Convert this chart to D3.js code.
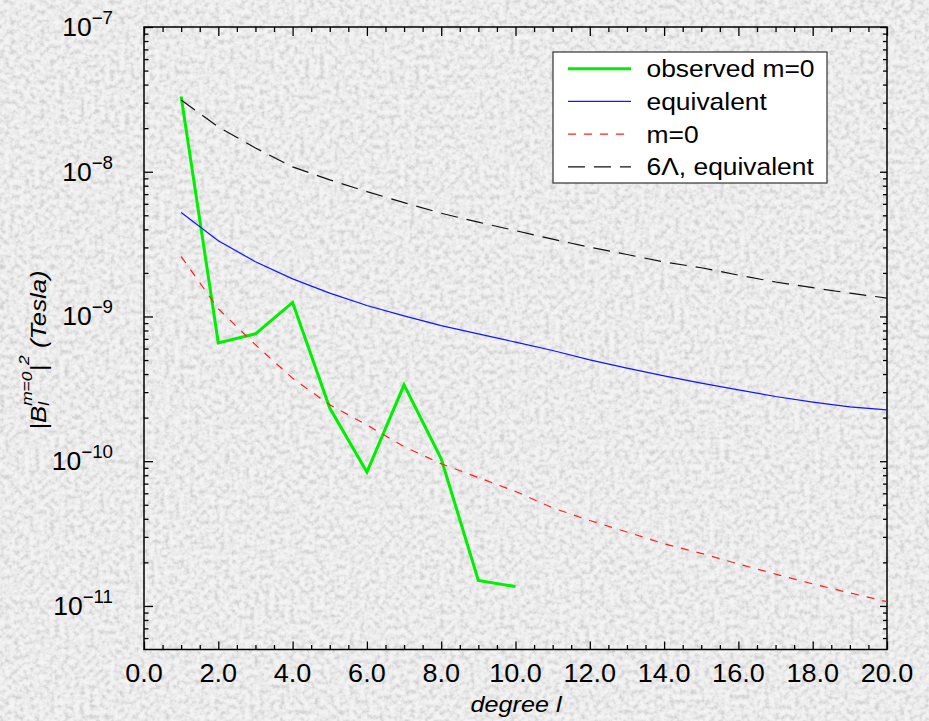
<!DOCTYPE html>
<html>
<head>
<meta charset="utf-8">
<script src="https://cdn.jsdelivr.net/npm/d3@7"></script>
<style>
  html, body { margin: 0; padding: 0; background: #e6e6e6; }
  svg { display: block; font-family: "Liberation Sans", Arial, Helvetica, sans-serif; }
</style>
</head>
<body>
<svg id="chart" width="929" height="721"></svg>
<script>
// Spherical-harmonic degree l
const degrees = [1, 2, 3, 4, 5, 6, 7, 8, 9, 10, 11, 12, 13, 14, 15, 16, 17, 18, 19, 20];
const observedDegrees = [1, 2, 3, 4, 5, 6, 7, 8, 9, 10];

// |B_l^{m=0}|^2 in Tesla
const observedM0 = [3.31e-8, 6.57e-10, 7.59e-10, 1.25e-9, 2.33e-10, 8.41e-11, 3.37e-10, 1.04e-10, 1.50e-11, 1.36e-11];
const equivalent = [5.22e-9, 3.33e-9, 2.39e-9, 1.82e-9, 1.45e-9, 1.19e-9, 1.01e-9, 8.65e-10, 7.59e-10, 6.64e-10,
                    5.82e-10, 5.01e-10, 4.40e-10, 3.89e-10, 3.46e-10, 3.11e-10, 2.80e-10, 2.56e-10, 2.37e-10, 2.26e-10];
const m0Model = [2.59e-9, 1.13e-9, 6.37e-10, 3.74e-10, 2.45e-10, 1.78e-10, 1.26e-10, 9.60e-11, 7.71e-11, 6.18e-11,
                 4.76e-11, 3.89e-11, 3.24e-11, 2.69e-11, 2.31e-11, 1.95e-11, 1.66e-11, 1.42e-11, 1.23e-11, 1.07e-11];
const sixLambdaEquivalent = [3.13e-8, 2.04e-8, 1.46e-8, 1.08e-8, 8.78e-9, 7.29e-9, 6.12e-9, 5.17e-9, 4.48e-9, 3.92e-9,
                             3.42e-9, 3.01e-9, 2.68e-9, 2.38e-9, 2.17e-9, 1.93e-9, 1.73e-9, 1.58e-9, 1.45e-9, 1.34e-9];

const seriesNames = ["observed m=0", "equivalent", "m=0", "6\u039B, equivalent"];
const xTickValues = [0, 2, 4, 6, 8, 10, 12, 14, 16, 18, 20];
const yDecadeExponents = [-7, -8, -9, -10, -11];

const W = 929, H = 721;
const plot = { left: 144, right: 887, top: 27, bottom: 649.5 };

const svg = d3.select("#chart");

// Grey marble paper background
const defs = svg.append("defs");
const filt = defs.append("filter").attr("id", "marble")
  .attr("x", 0).attr("y", 0).attr("width", "100%").attr("height", "100%")
  .attr("color-interpolation-filters", "sRGB");
filt.append("feTurbulence").attr("type", "fractalNoise")
  .attr("baseFrequency", 0.2).attr("numOctaves", 3).attr("seed", 11);
filt.append("feColorMatrix").attr("type", "matrix")
  .attr("values", "1 0 0 0 0  1 0 0 0 0  1 0 0 0 0  0 0 0 0 1");
filt.append("feGaussianBlur").attr("stdDeviation", 0.5);
const ct = filt.append("feComponentTransfer");
const table = "0.80 0.81 0.83 0.86 0.895 0.925 0.945 0.955 0.962 0.965 0.965";
["feFuncR", "feFuncG", "feFuncB"].forEach(f => ct.append(f).attr("type", "table").attr("tableValues", table));
svg.append("rect").attr("width", W).attr("height", H).attr("filter", "url(#marble)");

const x = d3.scaleLinear().domain([0, 20]).range([plot.left, plot.right]);
const y = d3.scaleLog().domain([5e-12, 1e-7]).range([plot.bottom, plot.top]);

// Tick sets
const xMinor = d3.range(0, 20.001, 0.5).filter(v => Math.abs(v / 2 - Math.round(v / 2)) > 1e-9);
const yMajor = yDecadeExponents.map(e => Math.pow(10, e));
const yMinor = [];
for (let e = -12; e <= -8; e++) for (let k = 2; k <= 9; k++) {
  const v = k * Math.pow(10, e);
  if (v > 5.0001e-12 && v < 1e-7) yMinor.push(v);
}

function drawAxis(axisGen, tx, ty) {
  const g = svg.append("g").attr("transform", `translate(${tx},${ty})`).call(axisGen);
  g.select(".domain").remove();
  g.selectAll(".tick line").attr("stroke", "#000").attr("stroke-width", 1.3);
  g.selectAll(".tick text").remove();
  return g;
}
const noLabel = () => "";
// bottom / top
drawAxis(d3.axisBottom(x).tickValues(xTickValues).tickSize(-8).tickSizeOuter(0).tickFormat(noLabel), 0, plot.bottom);
drawAxis(d3.axisBottom(x).tickValues(xMinor).tickSize(-4.5).tickSizeOuter(0).tickFormat(noLabel), 0, plot.bottom);
drawAxis(d3.axisTop(x).tickValues(xTickValues).tickSize(-9).tickSizeOuter(0).tickFormat(noLabel), 0, plot.top);
drawAxis(d3.axisTop(x).tickValues(xMinor).tickSize(-5).tickSizeOuter(0).tickFormat(noLabel), 0, plot.top);
// left / right
drawAxis(d3.axisLeft(y).tickValues(yMajor).tickSize(-9).tickSizeOuter(0).tickFormat(noLabel), plot.left, 0);
drawAxis(d3.axisLeft(y).tickValues(yMinor).tickSize(-4.5).tickSizeOuter(0).tickFormat(noLabel), plot.left, 0);
drawAxis(d3.axisRight(y).tickValues(yMajor).tickSize(-7).tickSizeOuter(0).tickFormat(noLabel), plot.right, 0);
drawAxis(d3.axisRight(y).tickValues(yMinor).tickSize(-4).tickSizeOuter(0).tickFormat(noLabel), plot.right, 0);

// Frame
svg.append("rect")
  .attr("x", plot.left).attr("y", plot.top)
  .attr("width", plot.right - plot.left).attr("height", plot.bottom - plot.top)
  .attr("fill", "none").attr("stroke", "#000").attr("stroke-width", 1.5);

// Tick labels
const fmt = d3.format(".1f");
svg.append("g").selectAll("g").data(xTickValues).join("g")
  .attr("transform", d => `translate(${x(d)},682) scale(1.04,1)`)
  .append("text").attr("text-anchor", "middle").attr("font-size", 26).attr("fill", "#000")
  .text(d => fmt(d));

const yl = svg.append("g").selectAll("g").data(yDecadeExponents).join("g")
  .attr("transform", d => `translate(113,${y(Math.pow(10, d)) + 9}) scale(1.04,1)`)
  .append("text").attr("text-anchor", "end").attr("fill", "#000").attr("font-size", 25.5);
yl.append("tspan").text("10");
yl.append("tspan").attr("font-size", 18).attr("dy", -12).text(d => "\u2212" + Math.abs(d));

// Axis titles
svg.append("g").attr("transform", "translate(516,711.5) scale(1.12,1)")
  .append("text").attr("text-anchor", "middle").attr("font-size", 22.5).attr("font-style", "italic")
  .text("degree l");

const yt = svg.append("g").attr("transform", "translate(45.5,350) rotate(-90) scale(1.12,1)")
  .append("text").attr("text-anchor", "middle").attr("font-size", 23).attr("font-style", "italic").attr("fill", "#000");
yt.append("tspan").text("|B");
yt.append("tspan").attr("font-size", 15.5).attr("dy", 3).text("l");
yt.append("tspan").attr("font-size", 15.5).attr("dx", -3.5).attr("dy", -17).text("m=0");
yt.append("tspan").attr("dy", 14).text("|");
yt.append("tspan").attr("font-size", 15.5).attr("dy", -17).text("2");
yt.append("tspan").attr("dy", 17).text(" (Tesla)");

// Series
const line = d3.line().x(d => x(d[0])).y(d => y(d[1]));
const series = [
  { name: seriesNames[0], l: observedDegrees, v: observedM0, color: "#00ee00", width: 3, dash: null },
  { name: seriesNames[1], l: degrees, v: equivalent, color: "#1414ff", width: 1.2, dash: null },
  { name: seriesNames[2], l: degrees, v: m0Model, color: "#ff2020", width: 1.2, dash: "8,8" },
  { name: seriesNames[3], l: degrees, v: sixLambdaEquivalent, color: "#111", width: 1.2, dash: "17,9" }
];
const plotG = svg.append("g");
series.forEach(s => {
  plotG.append("path")
    .datum(s.l.map((l, i) => [l, s.v[i]]))
    .attr("d", line)
    .attr("fill", "none")
    .attr("stroke", s.color)
    .attr("stroke-width", s.width)
    .attr("stroke-dasharray", s.dash);
});

// Legend
const lg = svg.append("g");
lg.append("rect").attr("x", 553).attr("y", 52).attr("width", 274).attr("height", 131)
  .attr("fill", "#fff").attr("stroke", "#333").attr("stroke-width", 1.2);
series.forEach((s, i) => {
  const ly = 68.7 + i * 32.7;
  lg.append("line").attr("x1", 568).attr("x2", 631).attr("y1", ly).attr("y2", ly)
    .attr("stroke", s.color).attr("stroke-width", s.width).attr("stroke-dasharray", s.dash);
  lg.append("g").attr("transform", `translate(646.5,${ly + 8.5}) scale(1.1,1)`)
    .append("text").attr("font-size", 24).attr("fill", "#000").text(s.name);
});
</script>
</body>
</html>
